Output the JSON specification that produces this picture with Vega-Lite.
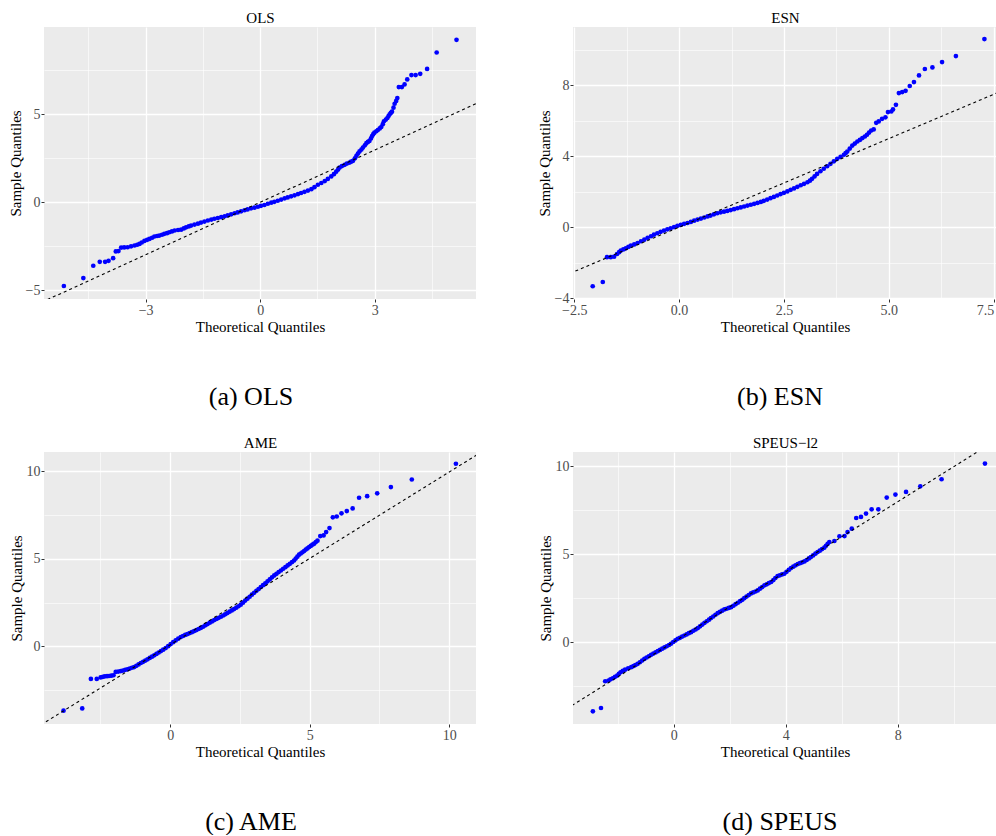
{
  "$schema": "https://vega.github.io/schema/vega-lite/v6.json",
  "padding": {"left": 8, "top": 10, "right": 0, "bottom": 0},
  "bounds": "flush",
  "columns": 2,
  "spacing": {"row": 153, "column": 97},
  "config": {
    "view": {"fill": "#EBEBEB", "stroke": null},
    "axis": {"domain": false, "gridColor": "#FFFFFF", "tickColor": "#333333", "tickSize": 3, "tickWidth": 1, "labelColor": "#4D4D4D", "labelFont": "Liberation Serif", "labelFontSize": 14, "labelPadding": 1, "labelOverlap": false, "titleFont": "Liberation Serif", "titleFontSize": 15, "titleFontWeight": "normal", "titleColor": "#000000", "titlePadding": 2},
    "title": {"font": "Liberation Serif", "fontSize": 26, "fontWeight": "normal", "color": "#000000", "orient": "bottom", "anchor": "middle", "frame": "group", "offset": 50}
  },
  "datasets": {
    "ols": [
      {"x":-5.14,"y":-4.75},{"x":-4.63,"y":-4.30},{"x":-4.37,"y":-3.60},{"x":-4.20,"y":-3.38},{"x":-4.06,"y":-3.38},{"x":-3.97,"y":-3.32},{"x":-3.85,"y":-3.17},{"x":-3.78,"y":-2.79},{"x":-3.71,"y":-2.77},
      {"x":-3.64,"y":-2.57},{"x":-3.56,"y":-2.56},{"x":-3.47,"y":-2.55},{"x":-3.38,"y":-2.50},{"x":-3.29,"y":-2.45},{"x":-3.22,"y":-2.41},{"x":-3.16,"y":-2.36},{"x":-3.10,"y":-2.28},{"x":-3.03,"y":-2.19},{"x":-2.96,"y":-2.13},{"x":-2.90,"y":-2.08},{"x":-2.83,"y":-2.01},{"x":-2.77,"y":-1.94},{"x":-2.70,"y":-1.91},{"x":-2.64,"y":-1.89},{"x":-2.57,"y":-1.84},{"x":-2.51,"y":-1.79},{"x":-2.44,"y":-1.75},{"x":-2.38,"y":-1.70},{"x":-2.31,"y":-1.65},{"x":-2.24,"y":-1.60},{"x":-2.15,"y":-1.57},{"x":-2.07,"y":-1.55},{"x":-2.00,"y":-1.48},{"x":-1.94,"y":-1.42},{"x":-1.87,"y":-1.37},{"x":-1.81,"y":-1.32},{"x":-1.72,"y":-1.26},{"x":-1.63,"y":-1.21},{"x":-1.55,"y":-1.15},{"x":-1.46,"y":-1.09},{"x":-1.37,"y":-1.03},{"x":-1.28,"y":-0.98},{"x":-1.20,"y":-0.93},{"x":-1.11,"y":-0.89},{"x":-1.02,"y":-0.84},{"x":-0.93,"y":-0.79},{"x":-0.85,"y":-0.74},{"x":-0.76,"y":-0.68},{"x":-0.67,"y":-0.62},{"x":-0.59,"y":-0.57},{"x":-0.50,"y":-0.51},{"x":-0.41,"y":-0.45},{"x":-0.33,"y":-0.40},{"x":-0.24,"y":-0.34},{"x":-0.15,"y":-0.30},{"x":-0.06,"y":-0.25},{"x":0.02,"y":-0.20},{"x":0.11,"y":-0.15},{"x":0.20,"y":-0.08},{"x":0.29,"y":-0.02},{"x":0.37,"y":0.03},{"x":0.46,"y":0.09},{"x":0.55,"y":0.16},{"x":0.64,"y":0.23},{"x":0.72,"y":0.28},{"x":0.81,"y":0.34},{"x":0.90,"y":0.40},{"x":0.99,"y":0.47},{"x":1.07,"y":0.53},{"x":1.16,"y":0.60},{"x":1.25,"y":0.67},{"x":1.34,"y":0.75},{"x":1.42,"y":0.86},{"x":1.51,"y":1.00},{"x":1.60,"y":1.10},{"x":1.69,"y":1.21},{"x":1.77,"y":1.33},{"x":1.86,"y":1.47},{"x":1.93,"y":1.60},{"x":1.99,"y":1.74},{"x":2.04,"y":1.86},{"x":2.08,"y":1.98},{"x":2.14,"y":2.06},{"x":2.21,"y":2.13},{"x":2.27,"y":2.20},{"x":2.34,"y":2.26},{"x":2.38,"y":2.31},{"x":2.43,"y":2.36},{"x":2.48,"y":2.50},{"x":2.52,"y":2.64},{"x":2.56,"y":2.77},{"x":2.60,"y":2.89},{"x":2.65,"y":3.00},{"x":2.69,"y":3.11},{"x":2.74,"y":3.24},{"x":2.78,"y":3.36},{"x":2.82,"y":3.43},{"x":2.86,"y":3.49},{"x":2.90,"y":3.63},{"x":2.93,"y":3.77},{"x":2.96,"y":3.87},{"x":2.99,"y":3.96},{"x":3.04,"y":4.04},{"x":3.08,"y":4.11},{"x":3.13,"y":4.20},{"x":3.17,"y":4.28},{"x":3.21,"y":4.44},{"x":3.24,"y":4.60},{"x":3.29,"y":4.70},{"x":3.33,"y":4.79},{"x":3.36,"y":4.90},{"x":3.39,"y":5.00},{"x":3.42,"y":5.08},{"x":3.45,"y":5.15},{"x":3.49,"y":5.38},{"x":3.52,"y":5.60},{"x":3.56,"y":5.76},{"x":3.59,"y":5.92},
      {"x":3.63,"y":6.55},{"x":3.71,"y":6.55},{"x":3.78,"y":6.70},{"x":3.85,"y":6.98},{"x":3.96,"y":7.23},{"x":4.07,"y":7.23},{"x":4.19,"y":7.30},{"x":4.37,"y":7.58},{"x":4.62,"y":8.51},{"x":5.14,"y":9.23}
    ],
    "esn": [
      {"x":-2.06,"y":-3.33},{"x":-1.82,"y":-3.09},
      {"x":-1.72,"y":-1.69},{"x":-1.63,"y":-1.69},{"x":-1.55,"y":-1.66},{"x":-1.48,"y":-1.51},{"x":-1.43,"y":-1.41},{"x":-1.39,"y":-1.32},{"x":-1.33,"y":-1.25},{"x":-1.27,"y":-1.19},{"x":-1.21,"y":-1.11},{"x":-1.15,"y":-1.04},{"x":-1.07,"y":-0.97},{"x":-0.99,"y":-0.89},{"x":-0.91,"y":-0.79},{"x":-0.83,"y":-0.70},{"x":-0.75,"y":-0.60},{"x":-0.67,"y":-0.51},{"x":-0.60,"y":-0.42},{"x":-0.52,"y":-0.34},{"x":-0.44,"y":-0.26},{"x":-0.36,"y":-0.19},{"x":-0.28,"y":-0.12},{"x":-0.20,"y":-0.06},{"x":-0.12,"y":0.01},{"x":-0.04,"y":0.08},{"x":0.04,"y":0.13},{"x":0.12,"y":0.19},{"x":0.20,"y":0.24},{"x":0.28,"y":0.30},{"x":0.36,"y":0.37},{"x":0.44,"y":0.43},{"x":0.52,"y":0.49},{"x":0.60,"y":0.55},{"x":0.68,"y":0.61},{"x":0.75,"y":0.66},{"x":0.83,"y":0.73},{"x":0.91,"y":0.79},{"x":0.99,"y":0.84},{"x":1.07,"y":0.88},{"x":1.15,"y":0.92},{"x":1.23,"y":0.97},{"x":1.31,"y":1.02},{"x":1.39,"y":1.07},{"x":1.47,"y":1.12},{"x":1.55,"y":1.17},{"x":1.63,"y":1.22},{"x":1.71,"y":1.27},{"x":1.79,"y":1.32},{"x":1.87,"y":1.37},{"x":1.95,"y":1.43},{"x":2.02,"y":1.49},{"x":2.10,"y":1.56},{"x":2.18,"y":1.64},{"x":2.26,"y":1.71},{"x":2.34,"y":1.79},{"x":2.42,"y":1.87},{"x":2.50,"y":1.94},{"x":2.58,"y":2.02},{"x":2.66,"y":2.11},{"x":2.74,"y":2.19},{"x":2.82,"y":2.28},{"x":2.90,"y":2.37},{"x":2.98,"y":2.45},{"x":3.06,"y":2.54},{"x":3.12,"y":2.63},{"x":3.17,"y":2.73},{"x":3.23,"y":2.87},{"x":3.29,"y":3.01},{"x":3.37,"y":3.16},{"x":3.45,"y":3.30},{"x":3.53,"y":3.44},{"x":3.61,"y":3.58},{"x":3.69,"y":3.72},{"x":3.77,"y":3.86},{"x":3.85,"y":3.97},{"x":3.93,"y":4.09},{"x":3.97,"y":4.18},{"x":4.01,"y":4.27},{"x":4.07,"y":4.44},{"x":4.13,"y":4.61},{"x":4.19,"y":4.72},{"x":4.25,"y":4.84},{"x":4.31,"y":4.93},{"x":4.37,"y":5.03},{"x":4.43,"y":5.12},{"x":4.48,"y":5.22},{"x":4.53,"y":5.34},{"x":4.58,"y":5.46},{"x":4.64,"y":5.52},
      {"x":4.70,"y":5.89},{"x":4.76,"y":5.97},{"x":4.84,"y":6.12},{"x":4.92,"y":6.20},{"x":4.98,"y":6.50},{"x":5.06,"y":6.53},{"x":5.10,"y":6.65},{"x":5.17,"y":6.91},{"x":5.24,"y":7.57},{"x":5.32,"y":7.63},{"x":5.40,"y":7.70},{"x":5.50,"y":7.97},{"x":5.60,"y":8.19},{"x":5.72,"y":8.57},{"x":5.86,"y":8.93},{"x":6.04,"y":9.02},{"x":6.27,"y":9.32},{"x":6.60,"y":9.66},{"x":7.28,"y":10.62}
    ],
    "ame": [
      {"x":-3.82,"y":-3.67},{"x":-3.15,"y":-3.54},
      {"x":-2.84,"y":-1.86},{"x":-2.63,"y":-1.86},{"x":-2.49,"y":-1.77},{"x":-2.41,"y":-1.74},{"x":-2.34,"y":-1.71},{"x":-2.26,"y":-1.70},{"x":-2.19,"y":-1.69},{"x":-2.11,"y":-1.67},{"x":-2.03,"y":-1.65},{"x":-1.95,"y":-1.46},{"x":-1.86,"y":-1.44},{"x":-1.77,"y":-1.41},{"x":-1.69,"y":-1.38},{"x":-1.61,"y":-1.34},{"x":-1.53,"y":-1.31},{"x":-1.45,"y":-1.27},{"x":-1.37,"y":-1.22},{"x":-1.29,"y":-1.18},{"x":-1.21,"y":-1.11},{"x":-1.13,"y":-1.03},{"x":-1.05,"y":-0.95},{"x":-0.97,"y":-0.88},{"x":-0.89,"y":-0.81},{"x":-0.81,"y":-0.74},{"x":-0.73,"y":-0.66},{"x":-0.65,"y":-0.59},{"x":-0.57,"y":-0.51},{"x":-0.49,"y":-0.43},{"x":-0.41,"y":-0.35},{"x":-0.33,"y":-0.27},{"x":-0.25,"y":-0.19},{"x":-0.16,"y":-0.10},{"x":-0.07,"y":0.01},{"x":0.02,"y":0.13},{"x":0.11,"y":0.24},{"x":0.20,"y":0.34},{"x":0.29,"y":0.44},{"x":0.38,"y":0.53},{"x":0.46,"y":0.59},{"x":0.54,"y":0.65},{"x":0.62,"y":0.70},{"x":0.70,"y":0.76},{"x":0.78,"y":0.81},{"x":0.86,"y":0.87},{"x":0.94,"y":0.93},{"x":1.02,"y":0.99},{"x":1.10,"y":1.05},{"x":1.18,"y":1.12},{"x":1.26,"y":1.20},{"x":1.34,"y":1.27},{"x":1.42,"y":1.35},{"x":1.50,"y":1.42},{"x":1.58,"y":1.50},{"x":1.66,"y":1.56},{"x":1.74,"y":1.63},{"x":1.82,"y":1.69},{"x":1.90,"y":1.76},{"x":1.97,"y":1.83},{"x":2.05,"y":1.90},{"x":2.13,"y":1.98},{"x":2.21,"y":2.05},{"x":2.29,"y":2.13},{"x":2.37,"y":2.21},{"x":2.45,"y":2.29},{"x":2.53,"y":2.38},{"x":2.61,"y":2.49},{"x":2.69,"y":2.61},{"x":2.77,"y":2.72},{"x":2.85,"y":2.83},{"x":2.93,"y":2.95},{"x":3.01,"y":3.06},{"x":3.09,"y":3.17},{"x":3.17,"y":3.27},{"x":3.25,"y":3.38},{"x":3.33,"y":3.49},{"x":3.41,"y":3.60},{"x":3.49,"y":3.71},{"x":3.57,"y":3.82},{"x":3.65,"y":3.94},{"x":3.73,"y":4.05},{"x":3.81,"y":4.14},{"x":3.89,"y":4.24},{"x":3.97,"y":4.33},{"x":4.05,"y":4.43},{"x":4.13,"y":4.52},{"x":4.21,"y":4.62},{"x":4.29,"y":4.71},{"x":4.37,"y":4.81},{"x":4.44,"y":4.90},{"x":4.50,"y":5.01},{"x":4.56,"y":5.12},{"x":4.62,"y":5.23},{"x":4.68,"y":5.30},{"x":4.74,"y":5.37},{"x":4.80,"y":5.44},{"x":4.86,"y":5.52},{"x":4.92,"y":5.59},{"x":4.98,"y":5.67},{"x":5.04,"y":5.73},{"x":5.10,"y":5.80},{"x":5.16,"y":5.86},{"x":5.22,"y":5.95},{"x":5.28,"y":6.03},
      {"x":5.38,"y":6.29},{"x":5.50,"y":6.33},{"x":5.59,"y":6.52},{"x":5.71,"y":6.75},{"x":5.83,"y":7.36},{"x":5.97,"y":7.41},{"x":6.14,"y":7.59},{"x":6.33,"y":7.72},{"x":6.54,"y":7.87},{"x":6.77,"y":8.48},{"x":7.06,"y":8.57},{"x":7.42,"y":8.73},{"x":7.91,"y":9.09},{"x":8.66,"y":9.52},{"x":10.24,"y":10.42}
    ],
    "speus": [
      {"x":-2.89,"y":-3.93},{"x":-2.60,"y":-3.74},
      {"x":-2.45,"y":-2.22},{"x":-2.33,"y":-2.18},{"x":-2.26,"y":-2.11},{"x":-2.18,"y":-2.05},{"x":-2.10,"y":-1.97},{"x":-2.02,"y":-1.90},{"x":-1.96,"y":-1.80},{"x":-1.90,"y":-1.71},{"x":-1.82,"y":-1.63},{"x":-1.74,"y":-1.56},{"x":-1.63,"y":-1.49},{"x":-1.52,"y":-1.42},{"x":-1.44,"y":-1.36},{"x":-1.37,"y":-1.30},{"x":-1.29,"y":-1.23},{"x":-1.21,"y":-1.14},{"x":-1.13,"y":-1.04},{"x":-1.05,"y":-0.95},{"x":-0.97,"y":-0.87},{"x":-0.89,"y":-0.80},{"x":-0.81,"y":-0.72},{"x":-0.73,"y":-0.65},{"x":-0.65,"y":-0.58},{"x":-0.57,"y":-0.51},{"x":-0.49,"y":-0.44},{"x":-0.41,"y":-0.37},{"x":-0.33,"y":-0.30},{"x":-0.25,"y":-0.23},{"x":-0.17,"y":-0.16},{"x":-0.10,"y":-0.09},{"x":-0.02,"y":0.01},{"x":0.06,"y":0.10},{"x":0.14,"y":0.19},{"x":0.22,"y":0.25},{"x":0.30,"y":0.32},{"x":0.38,"y":0.38},{"x":0.46,"y":0.44},{"x":0.54,"y":0.51},{"x":0.62,"y":0.57},{"x":0.70,"y":0.65},{"x":0.78,"y":0.72},{"x":0.86,"y":0.80},{"x":0.94,"y":0.90},{"x":1.02,"y":1.00},{"x":1.10,"y":1.10},{"x":1.18,"y":1.19},{"x":1.26,"y":1.28},{"x":1.33,"y":1.37},{"x":1.41,"y":1.46},{"x":1.49,"y":1.56},{"x":1.57,"y":1.65},{"x":1.65,"y":1.72},{"x":1.73,"y":1.79},{"x":1.81,"y":1.86},{"x":1.89,"y":1.90},{"x":1.97,"y":1.95},{"x":2.05,"y":1.99},{"x":2.13,"y":2.07},{"x":2.21,"y":2.16},{"x":2.29,"y":2.24},{"x":2.37,"y":2.33},{"x":2.45,"y":2.41},{"x":2.52,"y":2.50},{"x":2.60,"y":2.59},{"x":2.68,"y":2.68},{"x":2.76,"y":2.77},{"x":2.84,"y":2.83},{"x":2.92,"y":2.88},{"x":3.00,"y":2.94},{"x":3.08,"y":3.04},{"x":3.16,"y":3.13},{"x":3.24,"y":3.23},{"x":3.32,"y":3.29},{"x":3.40,"y":3.36},{"x":3.48,"y":3.42},{"x":3.56,"y":3.53},{"x":3.63,"y":3.65},{"x":3.71,"y":3.76},{"x":3.79,"y":3.80},{"x":3.87,"y":3.85},{"x":3.95,"y":3.89},{"x":4.03,"y":4.00},{"x":4.11,"y":4.11},{"x":4.19,"y":4.21},{"x":4.27,"y":4.29},{"x":4.35,"y":4.37},{"x":4.43,"y":4.44},{"x":4.51,"y":4.49},{"x":4.59,"y":4.54},{"x":4.67,"y":4.59},{"x":4.75,"y":4.67},{"x":4.83,"y":4.76},{"x":4.90,"y":4.84},{"x":4.98,"y":4.93},{"x":5.06,"y":5.03},{"x":5.14,"y":5.12},{"x":5.22,"y":5.20},{"x":5.30,"y":5.29},{"x":5.38,"y":5.37},{"x":5.44,"y":5.48},{"x":5.50,"y":5.59},{"x":5.56,"y":5.69},
      {"x":5.74,"y":5.75},{"x":5.92,"y":6.02},{"x":6.10,"y":6.03},{"x":6.21,"y":6.26},{"x":6.36,"y":6.45},{"x":6.52,"y":7.06},{"x":6.69,"y":7.12},{"x":6.87,"y":7.31},{"x":7.07,"y":7.55},{"x":7.31,"y":7.55},{"x":7.61,"y":8.22},{"x":7.92,"y":8.39},{"x":8.30,"y":8.54},{"x":8.81,"y":8.86},{"x":9.57,"y":9.26},{"x":11.12,"y":10.15}
    ]
  },
  "concat": [
    {
      "width": 432, "height": 272,
      "title": {"text": "(a) OLS", "dx": -9},
      "encoding": {"y": {"field": "y", "type": "quantitative", "scale": {"domain": [-5.49, 9.96], "nice": false, "zero": false},
        "axis": {"title": "Sample Quantiles", "values": [-5, -2.5, 0, 2.5, 5, 7.5], "format": "d", "labelExpr": "datum.value % 5 === 0 ? datum.label : ''", "tickOpacity": {"condition": {"test": "datum.value % 5 !== 0", "value": 0}, "value": 1}, "gridWidth": {"condition": {"test": "datum.value % 5 !== 0", "value": 0.6}, "value": 1.3}}}},
      "layer": [
        {"data": {"name": "ols"}, "mark": {"type": "circle", "color": "#0000FF", "size": 22, "opacity": 1},
         "encoding": {"x": {"field": "x", "type": "quantitative", "scale": {"domain": [-5.66, 5.65], "nice": false, "zero": false},
           "axis": {"title": "Theoretical Quantiles", "values": [-4.5, -3, -1.5, 0, 1.5, 3, 4.5], "format": "d", "labelExpr": "datum.value % 3 === 0 ? datum.label : ''", "tickOpacity": {"condition": {"test": "datum.value % 3 !== 0", "value": 0}, "value": 1}, "gridWidth": {"condition": {"test": "datum.value % 3 !== 0", "value": 0.6}, "value": 1.3}}}}},
        {"data": {"values": [{"x": -6, "y": -5.95}, {"x": 6, "y": 5.95}]}, "mark": {"type": "line", "color": "#000000", "strokeDash": [3, 3], "strokeWidth": 1.1, "clip": true},
         "encoding": {"x": {"field": "x", "type": "quantitative", "scale": {"domain": [-5.66, 5.65], "nice": false, "zero": false},
           "axis": {"orient": "top", "title": "OLS", "labels": false, "ticks": false, "grid": false, "domain": false, "titlePadding": 2}}}}
      ],
      "resolve": {"axis": {"x": "independent"}}
    },
    {
      "width": 424, "height": 272,
      "title": {"text": "(b) ESN", "dx": -5},
      "encoding": {"y": {"field": "y", "type": "quantitative", "scale": {"domain": [-4.05, 11.3], "nice": false, "zero": false},
        "axis": {"title": "Sample Quantiles", "values": [-4, -2, 0, 2, 4, 6, 8, 10], "format": "d", "labelExpr": "datum.value % 4 === 0 ? datum.label : ''", "tickOpacity": {"condition": {"test": "datum.value % 4 !== 0", "value": 0}, "value": 1}, "gridWidth": {"condition": {"test": "datum.value % 4 !== 0", "value": 0.6}, "value": 1.3}}}},
      "layer": [
        {"data": {"name": "esn"}, "mark": {"type": "circle", "color": "#0000FF", "size": 22, "opacity": 1},
         "encoding": {"x": {"field": "x", "type": "quantitative", "scale": {"domain": [-2.53, 7.58], "nice": false, "zero": false},
           "axis": {"title": "Theoretical Quantiles", "values": [-2.5, -1.25, 0, 1.25, 2.5, 3.75, 5, 6.25, 7.5], "format": ".1f", "labelExpr": "datum.value % 2.5 === 0 ? datum.label : ''", "labelAlign": {"condition": {"test": "datum.value === 7.5", "value": "right"}, "value": "center"}, "tickOpacity": {"condition": {"test": "datum.value % 2.5 !== 0", "value": 0}, "value": 1}, "gridWidth": {"condition": {"test": "datum.value % 2.5 !== 0", "value": 0.6}, "value": 1.3}}}}},
        {"data": {"values": [{"x": -3, "y": -3}, {"x": 8, "y": 8}]}, "mark": {"type": "line", "color": "#000000", "strokeDash": [3, 3], "strokeWidth": 1.1, "clip": true},
         "encoding": {"x": {"field": "x", "type": "quantitative", "scale": {"domain": [-2.53, 7.58], "nice": false, "zero": false},
           "axis": {"orient": "top", "title": "ESN", "labels": false, "ticks": false, "grid": false, "domain": false, "titlePadding": 2}}}}
      ],
      "resolve": {"axis": {"x": "independent"}}
    },
    {
      "width": 432, "height": 272,
      "title": {"text": "(c) AME", "dx": -9},
      "encoding": {"y": {"field": "y", "type": "quantitative", "scale": {"domain": [-4.43, 11.09], "nice": false, "zero": false},
        "axis": {"title": "Sample Quantiles", "values": [-2.5, 0, 2.5, 5, 7.5, 10], "format": "d", "labelExpr": "datum.value % 5 === 0 ? datum.label : ''", "tickOpacity": {"condition": {"test": "datum.value % 5 !== 0", "value": 0}, "value": 1}, "gridWidth": {"condition": {"test": "datum.value % 5 !== 0", "value": 0.6}, "value": 1.3}}}},
      "layer": [
        {"data": {"name": "ame"}, "mark": {"type": "circle", "color": "#0000FF", "size": 22, "opacity": 1},
         "encoding": {"x": {"field": "x", "type": "quantitative", "scale": {"domain": [-4.52, 10.96], "nice": false, "zero": false},
           "axis": {"title": "Theoretical Quantiles", "values": [-2.5, 0, 2.5, 5, 7.5, 10], "format": "d", "labelExpr": "datum.value % 5 === 0 ? datum.label : ''", "tickOpacity": {"condition": {"test": "datum.value % 5 !== 0", "value": 0}, "value": 1}, "gridWidth": {"condition": {"test": "datum.value % 5 !== 0", "value": 0.6}, "value": 1.3}}}}},
        {"data": {"values": [{"x": -5, "y": -4.843}, {"x": 11.5, "y": 11.426}]}, "mark": {"type": "line", "color": "#000000", "strokeDash": [3, 3], "strokeWidth": 1.1, "clip": true},
         "encoding": {"x": {"field": "x", "type": "quantitative", "scale": {"domain": [-4.52, 10.96], "nice": false, "zero": false},
           "axis": {"orient": "top", "title": "AME", "labels": false, "ticks": false, "grid": false, "domain": false, "titlePadding": 2}}}}
      ],
      "resolve": {"axis": {"x": "independent"}}
    },
    {
      "width": 424, "height": 272,
      "title": {"text": "(d) SPEUS", "dx": -5},
      "encoding": {"y": {"field": "y", "type": "quantitative", "scale": {"domain": [-4.65, 10.81], "nice": false, "zero": false},
        "axis": {"title": "Sample Quantiles", "values": [-2.5, 0, 2.5, 5, 7.5, 10], "format": "d", "labelExpr": "datum.value % 5 === 0 ? datum.label : ''", "tickOpacity": {"condition": {"test": "datum.value % 5 !== 0", "value": 0}, "value": 1}, "gridWidth": {"condition": {"test": "datum.value % 5 !== 0", "value": 0.6}, "value": 1.3}}}},
      "layer": [
        {"data": {"name": "speus"}, "mark": {"type": "circle", "color": "#0000FF", "size": 22, "opacity": 1},
         "encoding": {"x": {"field": "x", "type": "quantitative", "scale": {"domain": [-3.6, 11.55], "nice": false, "zero": false},
           "axis": {"title": "Theoretical Quantiles", "values": [-2, 0, 2, 4, 6, 8, 10], "format": "d", "labelExpr": "datum.value % 4 === 0 ? datum.label : ''", "tickOpacity": {"condition": {"test": "datum.value % 4 !== 0", "value": 0}, "value": 1}, "gridWidth": {"condition": {"test": "datum.value % 4 !== 0", "value": 0.6}, "value": 1.3}}}}},
        {"data": {"values": [{"x": -4, "y": -3.96}, {"x": 12, "y": 11.96}]}, "mark": {"type": "line", "color": "#000000", "strokeDash": [3, 3], "strokeWidth": 1.1, "clip": true},
         "encoding": {"x": {"field": "x", "type": "quantitative", "scale": {"domain": [-3.6, 11.55], "nice": false, "zero": false},
           "axis": {"orient": "top", "title": "SPEUS−l2", "labels": false, "ticks": false, "grid": false, "domain": false, "titlePadding": 2}}}}
      ],
      "resolve": {"axis": {"x": "independent"}}
    }
  ]
}
